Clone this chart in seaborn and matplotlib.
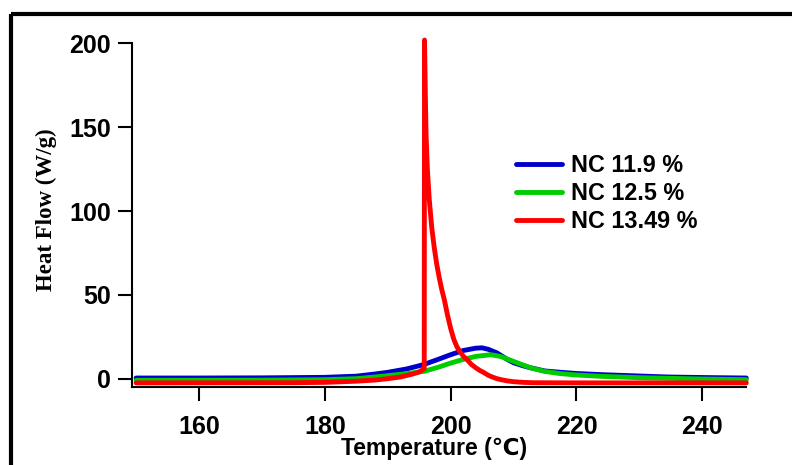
import pandas as pd
import matplotlib.pyplot as plt
import seaborn as sns
from matplotlib.lines import Line2D

# -----------------------------
# Data
# -----------------------------
labels = ["NC 11.9 %", "NC 12.5 %", "NC 13.49 %"]
colors = ["#0000cc", "#00cc00", "#ff0000"]

t_blue = [150, 160, 170, 180, 185, 188, 190, 193, 195.7, 198, 200, 202, 204, 205,
          206, 207.4, 209, 210, 211.5, 212.7, 215, 217.5, 220, 224, 230, 234.5, 240, 247]
hf_blue = [0.4, 0.4, 0.5, 0.8, 1.5, 2.8, 3.8, 5.8, 8.4, 11.5, 14.3, 16.8, 18.2, 18.4,
           17.5, 15.3, 11.5, 9.5, 7.7, 6.5, 4.6, 3.8, 3.1, 2.4, 1.6, 1.0, 0.7, 0.4]

t_green = [150, 170, 180, 185, 188, 190, 193, 195.8, 198, 200, 202, 204, 206.4,
           208, 210, 211.5, 212.7, 215, 217.5, 220, 224, 230, 240, 247]
hf_green = [-1.0, -0.9, -0.6, 0.0, 1.0, 1.8, 3.0, 4.4, 6.8, 9.3, 11.5, 13.3, 14.3,
            13.2, 10.3, 8.2, 6.5, 4.3, 3.0, 2.2, 1.4, 0.6, -0.2, -0.6]

t_red = [150, 175, 180, 185, 188, 190, 192, 194, 195, 195.8, 195.85, 196.0, 196.1,
         196.3, 196.6, 197.0, 197.4, 197.8, 198.2, 198.6, 199.0, 199.5, 200.0, 200.5,
         201.0, 201.5, 202.0, 202.7, 203.3, 204.0, 204.6, 205.3, 206.0, 206.5, 207.2,
         208.0, 209.0, 210.0, 211.5, 213.0, 220.0, 247.0]
hf_red = [-2.5, -2.4, -2.2, -1.5, -0.8, 0.0, 1.0, 2.8, 4.0, 6.0, 202.0, 165.0, 145.0,
          125.0, 107.0, 90.0, 78.0, 68.0, 60.0, 53.0, 47.0, 38.0, 30.0, 23.5,
          19.0, 16.0, 13.5, 11.0, 8.5, 6.5, 5.0, 3.6, 2.0, 1.2, 0.2,
          -0.6, -1.3, -1.8, -2.2, -2.4, -2.5, -2.5]

x_ticks = [160, 180, 200, 220, 240]
y_ticks = [0, 50, 100, 150, 200]

# -----------------------------
# Build long-form table
# -----------------------------
frames = []
for name, t, hf in zip(labels, [t_blue, t_green, t_red], [hf_blue, hf_green, hf_red]):
    frames.append(pd.DataFrame({"Temperature": t, "HeatFlow": hf, "Sample": name}))
df = pd.concat(frames, ignore_index=True)

# -----------------------------
# Plot
# -----------------------------
sns.set_theme(style="ticks")
plt.rcParams["font.family"] = ["Liberation Sans", "DejaVu Sans"]
plt.rcParams["font.weight"] = "bold"
for key in ["text.color", "axes.labelcolor", "xtick.color", "ytick.color"]:
    plt.rcParams[key] = "black"

fig = plt.figure(figsize=(7.92, 4.65), dpi=100)
ax = fig.add_axes([0.1663, 0.1667, 0.7756, 0.7408])

sns.lineplot(data=df, x="Temperature", y="HeatFlow", hue="Sample",
             palette=dict(zip(labels, colors)), hue_order=labels,
             estimator=None, sort=False, linewidth=3.5, ax=ax, legend=False)
for line in ax.get_lines():
    line.set_solid_capstyle("round")
    line.set_solid_joinstyle("round")
    line.set_clip_on(False)

ax.set_xlim(149.3, 246.95)
ax.set_ylim(-5.25, 200.2)
ax.set_xticks(x_ticks)
ax.set_yticks(y_ticks)

sns.despine(ax=ax)
for side in ["left", "bottom"]:
    ax.spines[side].set_linewidth(1.5)
    ax.spines[side].set_color("black")
ax.tick_params(axis="both", direction="out", length=10, width=1.5,
               colors="black", labelsize=18)
ax.tick_params(axis="x", pad=10)
ax.tick_params(axis="y", pad=5)
for lbl in ax.get_xticklabels() + ax.get_yticklabels():
    lbl.set_fontweight("bold")

ax.set_xlabel("Temperature (℃)", fontsize=16.5, fontweight="bold")
ax.set_ylabel("Heat Flow (W/g)", fontsize=16.5, fontweight="bold",
              family=["Liberation Serif", "DejaVu Serif"])
ax.yaxis.set_label_coords(-0.122, 0.515)
ax.xaxis.set_label_coords(0.492, -0.145)

handles = [Line2D([], [], color=c, linewidth=3.5, solid_capstyle="round") for c in colors]
leg = fig.legend(handles, labels, loc="upper left", bbox_to_anchor=(0.652, 0.668),
                 frameon=False, borderpad=0, borderaxespad=0, handlelength=1.95,
                 handletextpad=0.4, labelspacing=0.2,
                 prop={"size": 16.8, "weight": "bold"})

# outer frame (top and left edges only)
fig.add_artist(Line2D([0.0139, 1.0], [0.970, 0.970], color="black", linewidth=3,
                      transform=fig.transFigure, solid_capstyle="butt"))
fig.add_artist(Line2D([0.0139, 0.0139], [0.0, 0.970], color="black", linewidth=3,
                      transform=fig.transFigure, solid_capstyle="butt"))

fig.savefig("out.png", dpi=100, facecolor="white")
